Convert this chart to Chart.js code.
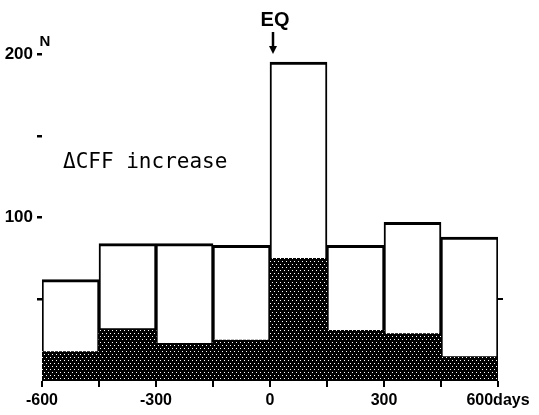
<!DOCTYPE html>
<html>
<head>
<meta charset="utf-8">
<script src="https://cdn.jsdelivr.net/npm/chart.js@4/dist/chart.umd.min.js"></script>
<style>
  html, body { margin: 0; padding: 0; background: #fff; }
  canvas { display: block; }
</style>
</head>
<body>
<canvas id="cff-chart" width="539" height="415"></canvas>
<script>
// 150-day bins from -600 to +600 days around the earthquake
var binCenters = [-525, -375, -225, -75, 75, 225, 375, 525];
var totalCounts = [62, 84, 84, 83, 195, 83, 97, 88];
var cffCounts = [18, 32, 23, 25, 75, 31, 29, 15];

var xTickValues = [-600, -450, -300, -150, 0, 150, 300, 450, 600];
var xTickLabels = ['-600', '', '-300', '', '0', '', '300', '', '600days'];
var yTickValues = [50, 100, 150, 200];
var yTickLabels = ['', '100', '', '200'];
var rightTickValues = [50];

(function () {
  var canvas = document.getElementById('cff-chart');
  var sans = '"Liberation Sans", Arial, sans-serif';

  // black fill with sparse white dots, like the screen tone in the print
  function dotPattern() {
    var tile = document.createElement('canvas');
    tile.width = 4;
    tile.height = 6;
    var t = tile.getContext('2d');
    t.fillStyle = '#000';
    t.fillRect(0, 0, 4, 6);
    t.fillStyle = '#fff';
    t.fillRect(0, 0, 1, 1);
    t.fillRect(2, 3, 1, 1);
    return canvas.getContext('2d').createPattern(tile, 'repeat');
  }

  function points(values) {
    return values.map(function (v, i) {
      return { x: binCenters[i], y: v };
    });
  }

  var annotations = {
    id: 'annotations',
    afterDraw: function (chart) {
      var ctx = chart.ctx;
      var area = chart.chartArea;
      var x0 = chart.scales.x.getPixelForValue(0);
      ctx.save();
      ctx.fillStyle = '#000';
      ctx.strokeStyle = '#000';

      ctx.font = 'bold 20px ' + sans;
      ctx.textAlign = 'center';
      ctx.textBaseline = 'alphabetic';
      ctx.fillText('EQ', x0 + 5, 26);

      ctx.lineWidth = 2.5;
      ctx.beginPath();
      ctx.moveTo(x0 + 3, 32);
      ctx.lineTo(x0 + 3, 48);
      ctx.stroke();
      ctx.beginPath();
      ctx.moveTo(x0 - 1, 46);
      ctx.lineTo(x0 + 7, 46);
      ctx.lineTo(x0 + 3, 54);
      ctx.closePath();
      ctx.fill();

      ctx.font = 'bold 15px ' + sans;
      ctx.fillText('N', area.left + 3, 46);

      ctx.font = '21px "DejaVu Sans Mono", monospace';
      ctx.textAlign = 'left';
      ctx.fillText('\u0394CFF increase', area.left + 21, 168);
      ctx.restore();
    },
  };

  var tickFont = { family: sans, size: 16, weight: 'bold' };

  new Chart(canvas, {
    type: 'bar',
    data: {
      datasets: [{
        label: '\u0394CFF increase',
        data: points(cffCounts),
        backgroundColor: dotPattern(),
        borderWidth: 0,
        grouped: false,
        barPercentage: 1,
        categoryPercentage: 1,
      }, {
        label: 'N',
        data: points(totalCounts),
        backgroundColor: '#fff',
        borderColor: '#000',
        borderWidth: { top: 3, left: 2, right: 2, bottom: 0 },
        grouped: false,
        barPercentage: 1,
        categoryPercentage: 1,
      }],
    },
    options: {
      responsive: false,
      animation: false,
      events: [],
      layout: { padding: { top: 54, left: 0, right: 0, bottom: 0 } },
      plugins: {
        legend: { display: false },
        tooltip: { enabled: false },
      },
      scales: {
        x: {
          type: 'linear',
          min: -600,
          max: 600,
          offset: false,
          afterBuildTicks: function (scale) {
            scale.ticks = xTickValues.map(function (v) { return { value: v }; });
          },
          afterFit: function (scale) { scale.height = 34; },
          grid: { offset: false, drawOnChartArea: false, color: '#000', lineWidth: 2, tickLength: 6 },
          border: { display: false },
          ticks: {
            color: '#000',
            font: tickFont,
            padding: 4,
            maxRotation: 0,
            autoSkip: false,
            callback: function (value) {
              return xTickLabels[xTickValues.indexOf(value)];
            },
          },
        },
        y: {
          position: 'left',
          min: 0,
          max: 200,
          afterBuildTicks: function (scale) {
            scale.ticks = yTickValues.map(function (v) { return { value: v }; });
          },
          afterFit: function (scale) { scale.width = 42; },
          grid: { drawOnChartArea: false, color: '#000', lineWidth: 2.5, tickLength: 5 },
          border: { display: false },
          ticks: {
            color: '#000',
            font: { family: sans, size: 17, weight: 'bold' },
            padding: 4,
            callback: function (value) {
              return yTickLabels[yTickValues.indexOf(value)];
            },
          },
        },
        y2: {
          position: 'right',
          min: 0,
          max: 200,
          afterBuildTicks: function (scale) {
            scale.ticks = rightTickValues.map(function (v) { return { value: v }; });
          },
          afterFit: function (scale) { scale.width = 41; },
          grid: { drawOnChartArea: false, color: '#000', lineWidth: 2, tickLength: 5 },
          border: { display: false },
          ticks: { display: true, callback: function () { return ''; } },
        },
      },
    },
    plugins: [annotations],
  });
})();
</script>
</body>
</html>
